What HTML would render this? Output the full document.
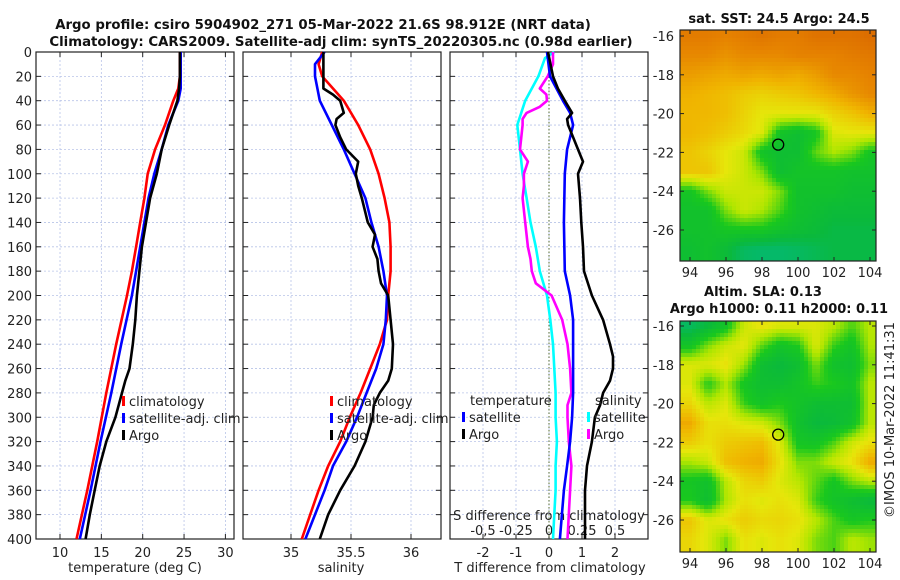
<!DOCTYPE html>
<html><head><meta charset="utf-8">
<style>
html,body{margin:0;padding:0;background:#fff;}
svg{display:block;font-family:"DejaVu Sans","Liberation Sans",sans-serif;}
</style></head>
<body>
<svg id="chart" width="900" height="580" viewBox="0 0 900 580">
<g id="base"></g>
</svg>
<script>
// ---- data ----
const depthT = [0,20,30,40,60,80,100,120,140,160,180,200,240,280,320,360,400];
const tempClim = [24.5,24.5,24.3,23.7,22.7,21.5,20.6,20.2,19.7,19.2,18.7,18.1,16.8,15.6,14.5,13.3,12.0];
const tempSat = [24.6,24.6,24.6,24.3,23.1,22.3,21.4,20.7,20.2,19.7,19.2,18.7,17.4,16.2,14.9,13.7,12.4];
const depthTA = [0,20,30,40,60,80,100,120,140,160,180,200,220,240,260,270,280,300,320,340,360,380,400];
const tempArgo = [24.5,24.5,24.4,24.2,23.2,22.3,21.7,20.9,20.4,19.9,19.6,19.3,19.1,18.8,18.4,17.9,17.5,16.7,15.6,14.8,14.2,13.6,13.1];
const depthS = [0,10,20,30,40,60,80,100,120,140,160,180,200,220,240,260,280,300,320,340,360,380,400];
const salClim = [35.26,35.23,35.26,35.35,35.44,35.56,35.66,35.73,35.78,35.82,35.83,35.83,35.81,35.8,35.74,35.66,35.58,35.49,35.41,35.31,35.23,35.16,35.09];
const salSat = [35.28,35.2,35.2,35.22,35.24,35.34,35.44,35.53,35.62,35.67,35.73,35.77,35.8,35.79,35.77,35.71,35.63,35.55,35.46,35.35,35.28,35.2,35.12];
const depthSA = [0,30,35,40,50,55,60,70,80,90,100,110,120,140,150,160,170,180,190,200,220,240,260,270,280,290,300,320,340,360,380,400];
const salArgo = [35.27,35.27,35.35,35.41,35.44,35.38,35.37,35.41,35.46,35.56,35.54,35.56,35.59,35.64,35.7,35.68,35.72,35.73,35.75,35.81,35.83,35.85,35.84,35.81,35.74,35.69,35.68,35.62,35.53,35.41,35.31,35.24];
const depthD = [0,20,40,50,60,70,80,100,140,180,200,220,240,260,280,300,320,340,360,380,400];
const tDiffSat = [-0.06,0.03,0.42,0.64,0.73,0.64,0.55,0.48,0.45,0.48,0.64,0.73,0.73,0.73,0.73,0.7,0.64,0.55,0.45,0.39,0.33];
const depthDA = [0,20,30,40,50,55,60,70,80,90,100,120,140,160,180,200,220,240,250,260,270,280,290,300,320,340,360,380,400];
const tDiffArgo = [-0.03,0.12,0.27,0.48,0.7,0.55,0.58,0.73,0.88,1.03,0.88,0.94,0.98,1.03,1.06,1.3,1.64,1.85,1.94,1.94,1.85,1.64,1.55,1.39,1.3,1.15,1.09,1.09,1.09];
const depthDS = [0,5,20,40,60,80,100,120,140,160,180,200,220,240,260,280,300,320,340,360,380,400];
const sDiffSat = [0.04,-0.03,-0.08,-0.18,-0.24,-0.22,-0.2,-0.17,-0.14,-0.1,-0.07,-0.015,0.01,0.03,0.04,0.05,0.05,0.06,0.05,0.05,0.04,0.03];
const depthDSA = [0,10,20,30,35,40,45,50,55,60,70,80,90,100,110,120,140,160,170,180,190,200,220,240,260,280,290,300,320,340,360,380,400];
const sDiffArgo = [0.03,0.03,-0.01,-0.07,-0.02,-0.015,-0.07,-0.17,-0.2,-0.2,-0.21,-0.22,-0.16,-0.19,-0.19,-0.2,-0.18,-0.16,-0.14,-0.13,-0.1,0.02,0.1,0.14,0.16,0.17,0.14,0.14,0.15,0.17,0.16,0.15,0.14];
const depthTicks = [0,20,40,60,80,100,120,140,160,180,200,220,240,260,280,300,320,340,360,380,400];
const tempTicks = [10,15,20,25,30];
const salTicks = [35,35.5,36];
const salTickLabels = ["35","35.5","36"];
const tdTicks = [-2,-1,0,1,2];
const sdTicks = [-0.5,-0.25,0,0.25,0.5];
const sdTickLabels = ["-0,5","-0.25","0","0.25","0.5"];
const mapLons = [94,96,98,100,102,104];
const mapLats = [-16,-18,-20,-22,-24,-26];
const sstGrid = [
[.92,.92,.9,.92,.94,.92,.92,.95,.95,.95,.97],
[.88,.88,.85,.88,.88,.88,.9,.9,.9,.92,.93],
[.82,.8,.78,.8,.78,.8,.78,.82,.88,.88,.9],
[.76,.74,.72,.68,.66,.68,.7,.74,.78,.84,.88],
[.74,.74,.72,.66,.6,.6,.6,.6,.66,.7,.76],
[.74,.72,.68,.64,.58,.3,.25,.32,.58,.6,.6],
[.7,.66,.6,.55,.3,.25,.25,.42,.5,.45,.32],
[.7,.7,.6,.55,.45,.25,.3,.3,.3,.28,.28],
[.32,.45,.55,.55,.55,.45,.28,.28,.28,.25,.25],
[.28,.28,.45,.55,.5,.4,.28,.25,.22,.22,.22],
[.28,.28,.32,.33,.33,.28,.25,.22,.18,.18,.18],
[.25,.28,.22,.12,.1,.1,.12,.15,.18,.18,.18]];
const slaGrid = [
[.12,.2,.3,.55,.62,.58,.58,.58,.52,.4,.52],
[.3,.45,.55,.6,.42,.3,.35,.58,.38,.3,.5],
[.58,.58,.62,.48,.25,.2,.25,.45,.28,.25,.45],
[.58,.35,.5,.32,.25,.25,.3,.38,.35,.3,.52],
[.65,.52,.58,.38,.3,.35,.3,.25,.25,.25,.52],
[.78,.62,.62,.58,.55,.45,.28,.2,.22,.28,.52],
[.68,.62,.68,.7,.72,.58,.32,.3,.4,.55,.62],
[.5,.55,.72,.76,.78,.62,.45,.45,.55,.62,.78],
[.32,.28,.52,.65,.68,.58,.52,.42,.32,.45,.52],
[.35,.25,.5,.62,.58,.62,.58,.38,.3,.25,.2],
[.7,.58,.62,.68,.64,.65,.62,.52,.4,.32,.35],
[.65,.58,.45,.62,.58,.62,.58,.45,.4,.52,.48]];
const argoLon = [98.9];
const argoLat = [-21.6];

// ---- helpers ----
const NS="http://www.w3.org/2000/svg";
const svg=document.getElementById('base');
function mk(tag,attrs,parent){const e=document.createElementNS(NS,tag);for(const k in attrs)e.setAttribute(k,attrs[k]);(parent||svg).appendChild(e);return e;}
function txt(s,x,y,attrs,parent){const e=mk('text',Object.assign({x:x,y:y,'font-size':13,fill:'#222'},attrs||{}),parent);e.textContent=s;return e;}
const PT=52, PB=539;
const yD=d=>PT+d*(PB-PT)/400;
const xT=t=>60+(t-10)*8.27;
const xS=s=>291+(s-35)*120;
const xTD=t=>549+t*33;
const xSD=s=>549+s*4*33;
const panels=[[36,234],[243,441],[450,648]];

panels.forEach((p,i)=>{
  const g=mk('g',{});
  
  
  depthTicks.forEach(d=>{
    const l=mk('line',{x1:p[0],x2:p[1],y1:yD(d),y2:yD(d),stroke:'#b8c4e8','stroke-width':0.8,'stroke-dasharray':'2,2'},g);
    
    
    mk('line',{x1:p[0],x2:p[0]+5,y1:yD(d),y2:yD(d),stroke:'#222'},g);
    mk('line',{x1:p[1]-5,x2:p[1],y1:yD(d),y2:yD(d),stroke:'#222'},g);
  });
  let xs, fx;
  if(i==0){xs=tempTicks;fx=xT;} else if(i==1){xs=salTicks;fx=xS;} else {xs=tdTicks;fx=xTD;}
  xs.forEach(v=>{
    const x=fx(v);
    const l=mk('line',{x1:x,x2:x,y1:PT,y2:PB,stroke:'#b8c4e8','stroke-width':0.8,'stroke-dasharray':'2,2'},g);
    
    
    mk('line',{x1:x,x2:x,y1:PB-5,y2:PB,stroke:'#222'},g);
    mk('line',{x1:x,x2:x,y1:PT,y2:PT+5,stroke:'#222'},g);
  });
  const r=mk('rect',{x:p[0],y:PT,width:p[1]-p[0],height:PB-PT,fill:'none',stroke:'#222','stroke-width':1.2},g);
  
  
});
depthTicks.forEach(d=>{
  const t=txt(String(d),32,yD(d)+5,{'text-anchor':'end'});
  
  
});
tempTicks.forEach(v=>{const t=txt(String(v),xT(v),557,{'text-anchor':'middle'});
  });
salTicks.forEach((v,i)=>{const t=txt(salTickLabels[i],xS(v),557,{'text-anchor':'middle'});
  });
tdTicks.forEach(v=>{const t=txt(String(v),xTD(v),557,{'text-anchor':'middle'});
  });
sdTicks.forEach((v,i)=>{const t=txt(sdTickLabels[i],xSD(v),535,{'text-anchor':'middle'});
  });
let a;
a=txt('temperature (deg C)',135,572,{'text-anchor':'middle'});
a=txt('salinity',341,572,{'text-anchor':'middle'});
a=txt('T difference from climatology',550,572,{'text-anchor':'middle'});
a=txt('S difference from climatology',549,520,{'text-anchor':'middle'});
a=mk('line',{x1:549,x2:549,y1:PT,y2:PB,stroke:'#556b2f','stroke-width':1,'stroke-dasharray':'1.5,2'});


a=txt('Argo profile: csiro 5904902_271 05-Mar-2022 21.6S 98.912E (NRT data)',323,29,{'text-anchor':'middle','font-weight':'bold','fill':'#111','font-size':13.3});

a=txt('Climatology: CARS2009. Satellite-adj clim: synTS_20220305.nc (0.98d earlier)',341,46,{'text-anchor':'middle','font-weight':'bold','fill':'#111','font-size':13.3});


function line(xs,ds,fx,color,name,w){
  const pts=xs.map((v,i)=>fx(v).toFixed(1)+','+yD(ds[i]).toFixed(1)).join(' ');
  const p=mk('polyline',{points:pts,fill:'none',stroke:color,'stroke-width':w||2.6,'stroke-linejoin':'round'});
  
  
}
line(tempClim,depthT,xT,'#ff0000','temp-climatology-line');
line(tempSat,depthT,xT,'#0000ff','temp-satellite-line');
line(tempArgo,depthTA,xT,'#000000','temp-argo-line');
line(salClim,depthS,xS,'#ff0000','sal-climatology-line');
line(salSat,depthS,xS,'#0000ff','sal-satellite-line');
line(salArgo,depthSA,xS,'#000000','sal-argo-line');
line(sDiffSat,depthDS,xSD,'#00ffff','sdiff-satellite-line');
line(sDiffArgo,depthDSA,xSD,'#ff00ff','sdiff-argo-line');
line(tDiffSat,depthD,xTD,'#0000ff','tdiff-satellite-line');
line(tDiffArgo,depthDA,xTD,'#000000','tdiff-argo-line');

function legend(x,y,label,color,name){
  const g=mk('g',{});
  
  
  mk('rect',{x:x,y:y-10,width:3,height:10,fill:color},g);
  txt(label,x+7,y,{},g);
}
legend(122,406,'climatology','#ff0000','legend-entry-climatology');
legend(122,423,'satellite-adj. clim','#0000ff','legend-entry-satellite');
legend(122,440,'Argo','#000000','legend-entry-argo');
legend(330,406,'climatology','#ff0000','legend-entry-climatology-2');
legend(330,423,'satellite-adj. clim','#0000ff','legend-entry-satellite-2');
legend(330,440,'Argo','#000000','legend-entry-argo-2');
a=txt('temperature',470,405,{});
a=txt('salinity',595,405,{});
legend(462,422,'satellite','#0000ff','legend-entry-t-satellite');
legend(462,439,'Argo','#000000','legend-entry-t-argo');
legend(587,422,'satellite','#00ffff','legend-entry-s-satellite');
legend(587,439,'Argo','#ff00ff','legend-entry-s-argo');

const stops=[[0,[0,185,150]],[0.2,[10,185,60]],[0.35,[25,200,30]],[0.5,[175,230,0]],[0.6,[230,230,10]],[0.75,[240,180,0]],[0.9,[230,130,0]],[1,[215,100,0]]];
function cmap(v){v=Math.max(0,Math.min(1,v));for(let i=1;i<stops.length;i++){if(v<=stops[i][0]){const a=stops[i-1],b=stops[i];const t=(v-a[0])/(b[0]-a[0]);return 'rgb('+a[1].map((c,k)=>Math.round(c+(b[1][k]-c)*t)).join(',')+')';}}return 'rgb(215,100,0)';}
function sample(grid,lon,lat){
  let c=Math.max(0,Math.min(10,lon-94)), r=Math.max(0,Math.min(11,-16-lat));
  const c0=Math.min(9,Math.floor(c)), r0=Math.min(10,Math.floor(r));
  const fc=c-c0, fr=r-r0;
  return grid[r0][c0]*(1-fc)*(1-fr)+grid[r0][c0+1]*fc*(1-fr)+grid[r0+1][c0]*(1-fc)*fr+grid[r0+1][c0+1]*fc*fr;
}
function drawMap(grid,top,lat16y,name,step){
  const g=mk('g',{});
  
  
  const X0=680,X1=876,Y0=top,Y1=top+231;
  const fxL=lon=>690+(lon-94)*18, fyL=lat=>lat16y+(-16-lat)*19.4;
  for(let y=Y0;y<Y1;y+=step){for(let x=X0;x<X1;x+=step){
    const lon=94+(x+step/2-690)/18, lat=-16-(y+step/2-lat16y)/19.4;
    mk('rect',{x:x,y:y,width:Math.min(step,X1-x)+0.3,height:Math.min(step,Y1-y)+0.3,fill:cmap(sample(grid,lon,lat))},g);
  }}
  mk('rect',{x:X0,y:Y0,width:X1-X0,height:Y1-Y0,fill:'none',stroke:'#222','stroke-width':1.2},g);
  mapLons.forEach(l=>{const x=fxL(l);mk('line',{x1:x,x2:x,y1:Y1,y2:Y1-4,stroke:'#222'},g);mk('line',{x1:x,x2:x,y1:Y0,y2:Y0+4,stroke:'#222'},g);
    const t=txt(String(l),x,Y1+16,{'text-anchor':'middle'},g);});
  mapLats.forEach(l=>{const y=fyL(l);mk('line',{x1:X0,x2:X0+4,y1:y,y2:y,stroke:'#222'},g);mk('line',{x1:X1-4,x2:X1,y1:y,y2:y,stroke:'#222'},g);
    const t=txt(String(l),X0-6,y+5,{'text-anchor':'end'},g);});
  const c=mk('circle',{cx:fxL(argoLon[0]),cy:fyL(argoLat[0]),r:5.5,fill:'none',stroke:'#000','stroke-width':1.3},g);
  
  
}
drawMap(sstGrid,30,36,'sst-map',4);
drawMap(slaGrid,321,326,'sla-map',4);
a=txt('sat. SST: 24.5 Argo: 24.5',779,23,{'text-anchor':'middle','font-weight':'bold','fill':'#111'});
a=txt('Altim. SLA: 0.13',763,296,{'text-anchor':'middle','font-weight':'bold','fill':'#111'});
a=txt('Argo h1000: 0.11 h2000: 0.11',779,313,{'text-anchor':'middle','font-weight':'bold','fill':'#111'});
a=txt('©IMOS 10-Mar-2022 11:41:31',0,0,{'text-anchor':'middle','transform':'translate(894,420) rotate(-90)'});
</script>
</body></html>
